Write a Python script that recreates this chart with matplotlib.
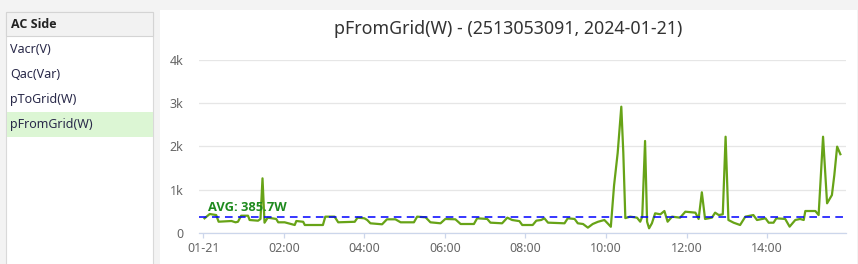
import matplotlib
matplotlib.use("Agg")
import matplotlib.pyplot as plt
from matplotlib.patches import Rectangle

plt.rcParams['font.family'] = ['Noto Sans', 'DejaVu Sans']

# ---- data (hours since 00:00, watts) ----
hours = [0.03, 0.16, 0.32, 0.38, 0.70, 0.80, 0.86, 0.94, 1.11, 1.15, 1.36, 1.42, 1.47, 1.52,
         1.60, 1.81, 1.86, 2.02, 2.27, 2.31, 2.48, 2.52, 2.97, 3.03, 3.26, 3.35, 3.76, 3.83,
         4.00, 4.07, 4.15, 4.44, 4.56, 4.77, 4.90, 5.23, 5.31, 5.52, 5.64, 5.89, 6.01, 6.26,
         6.39, 6.72, 6.80, 7.05, 7.13, 7.42, 7.55, 7.67, 7.85, 7.92, 8.18, 8.27, 8.39, 8.47,
         8.56, 8.97, 9.05, 9.22, 9.30, 9.43, 9.55, 9.67, 9.80, 9.96, 10.05, 10.12, 10.20,
         10.29, 10.38, 10.43, 10.48, 10.60, 10.77, 10.85, 10.90, 10.97, 11.02, 11.07, 11.14,
         11.22, 11.35, 11.45, 11.53, 11.64, 11.84, 11.97, 12.22, 12.30, 12.38, 12.46, 12.63,
         12.71, 12.80, 12.90, 12.97, 13.04, 13.17, 13.33, 13.46, 13.66, 13.75, 13.96, 14.04,
         14.16, 14.23, 14.45, 14.56, 14.70, 14.82, 14.91, 14.95, 15.20, 15.28, 15.39, 15.49,
         15.61, 15.67, 15.74, 15.82]
power = [345, 444, 420, 267, 283, 253, 265, 405, 405, 306, 290, 330, 1265, 244,
         360, 330, 253, 253, 191, 283, 265, 191, 191, 383, 383, 253, 265, 360,
         345, 306, 230, 207, 322, 322, 253, 253, 383, 368, 253, 230, 330, 322,
         214, 214, 345, 330, 245, 230, 360, 306, 280, 191, 191, 291, 306, 345,
         245, 230, 345, 330, 230, 214, 130, 214, 265, 306, 220, 150, 1100,
         1850, 2914, 1850, 350, 383, 360, 267, 383, 2125, 267, 115, 230,
         460, 437, 513, 267, 383, 360, 497, 475, 330, 944, 330, 360,
         475, 420, 437, 2223, 306, 244, 191, 383, 420, 306, 345, 244,
         244, 345, 330, 153, 306, 330, 306, 513, 513, 420, 2223, 690,
         880, 1340, 1995, 1820]
avg_value = 385.7
x_ticks = [0, 2, 4, 6, 8, 10, 12, 14]
x_labels = ["01-21", "02:00", "04:00", "06:00", "08:00", "10:00", "12:00", "14:00"]
y_ticks = [0, 1000, 2000, 3000, 4000]
y_labels = ["0", "1k", "2k", "3k", "4k"]
menu_title = "AC Side"
menu_items = ["Vacr(V)", "Qac(Var)", "pToGrid(W)", "pFromGrid(W)"]
selected_item = "pFromGrid(W)"
chart_title = "pFromGrid(W) - (2513053091, 2024-01-21)"

W, H = 858, 264
fig = plt.figure(figsize=(W / 100, H / 100), dpi=100)
fig.patch.set_facecolor('#f3f3f3')

def px(x0, y0, w, h):
    # pixel rect (top-left origin) -> figure coords
    return (x0 / W, 1 - (y0 + h) / H), w / W, h / H

# left panel
(xy, w, h) = px(6, 12, 147, 260)
fig.patches.append(Rectangle(xy, w, h, transform=fig.transFigure, facecolor='white',
                             edgecolor='#d9d9d9', lw=0.8, zorder=-2))
(xy, w, h) = px(6, 12, 147, 24)
fig.patches.append(Rectangle(xy, w, h, transform=fig.transFigure, facecolor='#f2f2f2',
                             edgecolor='#d4d4d4', lw=0.8, zorder=-1))
fig.text(11 / W, 1 - 24 / H, menu_title, fontsize=9, fontweight='bold', color='#222222',
         va='center', ha='left', family=['Open Sans', 'DejaVu Sans'])
for i, item in enumerate(menu_items):
    yc = 49.5 + 25 * i
    if item == selected_item:
        (xy, w, h) = px(7, yc - 12.5, 146, 25)
        fig.patches.append(Rectangle(xy, w, h, transform=fig.transFigure, facecolor='#dcf6d4',
                                     edgecolor='none', zorder=-1))
    fig.text(10 / W, 1 - yc / H, item, fontsize=9, color='#2a2a4a', va='center', ha='left',
             zorder=3)

# chart panel
(xy, w, h) = px(160, 10, 697, 260)
fig.patches.append(Rectangle(xy, w, h, transform=fig.transFigure, facecolor='white',
                             edgecolor='none', zorder=-2))

left, right, top, bottom = 199, 846, 59.5, 233.3
ax = fig.add_axes([left / W, 1 - bottom / H, (right - left) / W, (bottom - top) / H])
ax.set_zorder(1)
ax.set_facecolor('none')
ax.set_xlim(-0.107, 15.96)
ax.set_ylim(0, 4000)

ax.plot(hours, power, color='#67a317', lw=1.6, solid_joinstyle='round', zorder=3)
ax.axhline(avg_value, color='#0000ff', lw=1.1, ls=(0, (5, 3.5)), zorder=4)
ax.text(0.12, avg_value + 60, f"AVG: {avg_value}W", color='#1e8a1e', fontsize=9.3,
        fontweight='bold', ha='left', va='bottom', zorder=5,
        family=['Open Sans', 'DejaVu Sans'])

ax.set_yticks(y_ticks)
ax.set_yticklabels(y_labels)
ax.set_xticks(x_ticks)
ax.set_xticklabels(x_labels)
ax.grid(axis='y', color='#e6e6e6', lw=0.9)
ax.set_axisbelow(True)
for s in ['top', 'right', 'left']:
    ax.spines[s].set_visible(False)
ax.spines['bottom'].set_color('#ccd6eb')
ax.spines['bottom'].set_linewidth(0.9)
ax.tick_params(axis='y', length=0, pad=11, labelsize=9, labelcolor='#666666')
ax.tick_params(axis='x', length=3.6, width=0.9, color='#ccd6eb', pad=3, labelsize=9,
               labelcolor='#666666')

fig.text(508 / W, 1 - 29 / H, chart_title, fontsize=12.8, color='#333333',
         ha='center', va='center')

fig.savefig('out.png', dpi=100, facecolor=fig.get_facecolor())
